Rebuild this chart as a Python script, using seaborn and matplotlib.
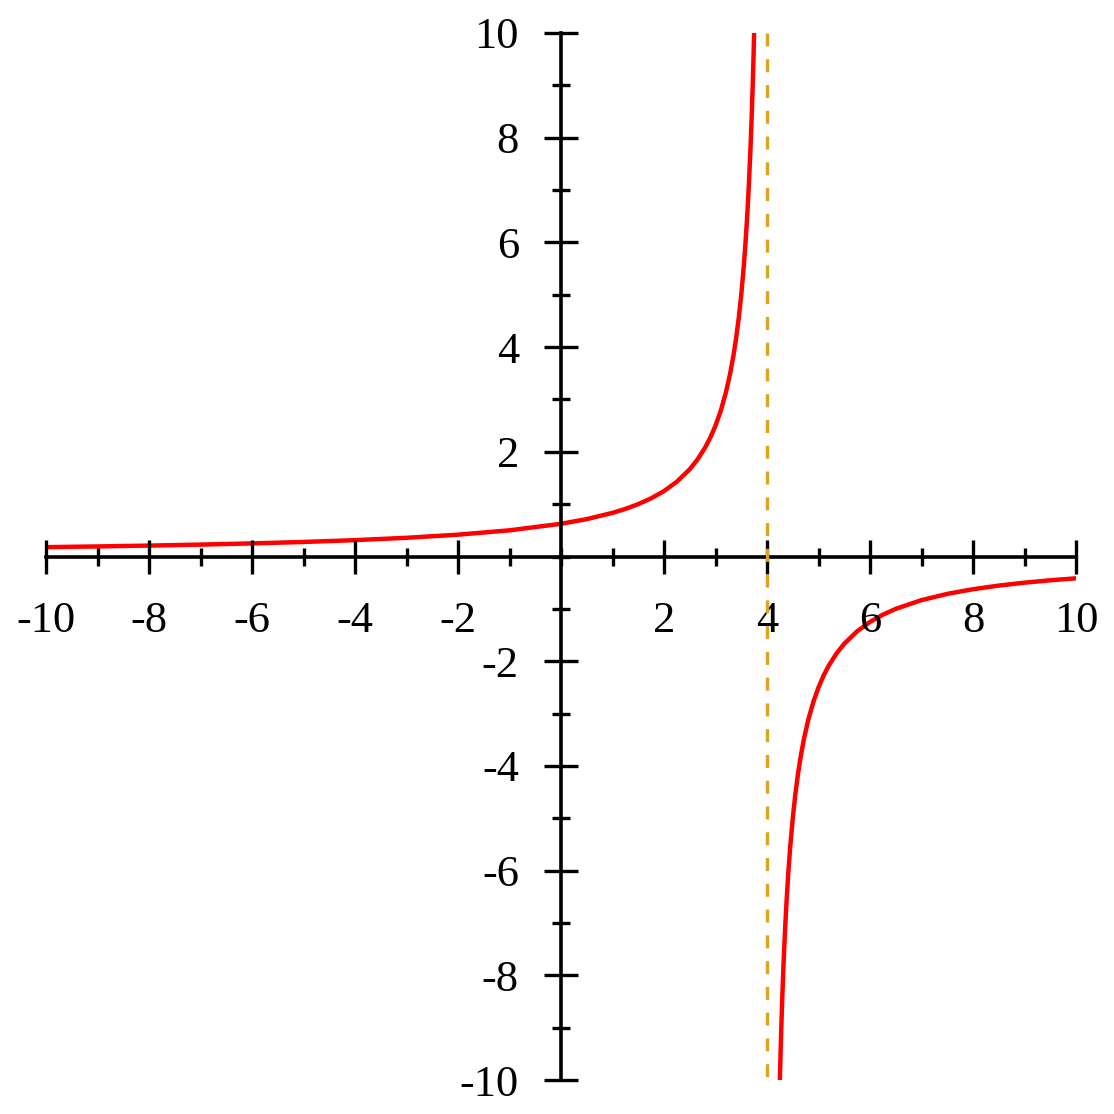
import numpy as np
import pandas as pd
import matplotlib
matplotlib.use("Agg")
import matplotlib.pyplot as plt
import seaborn as sns

# Left branch
left_x = [-10, -9, -8, -7, -6, -5, -4, -3, -2, -1, 0, 0.5, 1, 1.25, 1.5, 1.75, 2, 2.25, 2.5,
          2.65, 2.8, 2.9, 3, 3.1, 3.2, 3.28, 3.35, 3.4, 3.45, 3.5, 3.55, 3.585, 3.62, 3.65,
          3.68, 3.7, 3.72, 3.735, 3.75]
left_y = [0.1786, 0.1923, 0.2083, 0.2273, 0.25, 0.2778, 0.3125, 0.3571, 0.4167, 0.5, 0.625,
          0.7143, 0.8333, 0.9091, 1.0, 1.1111, 1.25, 1.4286, 1.6667, 1.8519, 2.0833, 2.2727,
          2.5, 2.7778, 3.125, 3.4722, 3.8462, 4.1667, 4.5455, 5.0, 5.5556, 6.0241, 6.5789,
          7.1429, 7.8125, 8.3333, 8.9286, 9.434, 10.0]

# Right branch
right_x = [4.25, 4.265, 4.28, 4.3, 4.32, 4.35, 4.38, 4.415, 4.45, 4.5, 4.55, 4.6, 4.65, 4.72,
           4.8, 4.9, 5, 5.1, 5.2, 5.35, 5.5, 5.75, 6, 6.25, 6.5, 7, 7.5, 8, 8.5, 9, 9.5, 10]
right_y = [-10.0, -9.434, -8.9286, -8.3333, -7.8125, -7.1429, -6.5789, -6.0241, -5.5556, -5.0,
           -4.5455, -4.1667, -3.8462, -3.4722, -3.125, -2.7778, -2.5, -2.2727, -2.0833, -1.8519,
           -1.6667, -1.4286, -1.25, -1.1111, -1.0, -0.8333, -0.7143, -0.625, -0.5556, -0.5,
           -0.4545, -0.4167]

asymptote_x = 4
asymptote_y = [10, -10]
major_ticks = [-10, -8, -6, -4, -2, 2, 4, 6, 8, 10]
minor_ticks = [-9, -7, -5, -3, -1, 0, 1, 3, 5, 7, 9]

sns.set_style("white")
plt.rcParams['font.family'] = ['Liberation Serif', 'DejaVu Serif']

fig = plt.figure(figsize=(11.14, 11.14), dpi=100)
ax = fig.add_axes([46/1114, 1-1080/1114, 1030/1114, 1047/1114])

df_l = pd.DataFrame({"x": left_x, "y": left_y})
df_r = pd.DataFrame({"x": right_x, "y": right_y})
sns.lineplot(data=df_l, x="x", y="y", ax=ax, color="#ff0000", linewidth=3.2, sort=False, zorder=3)
sns.lineplot(data=df_r, x="x", y="y", ax=ax, color="#ff0000", linewidth=3.2, sort=False, zorder=3)
ax.plot([asymptote_x, asymptote_x], asymptote_y, color="#DAA520", lw=2.4,
        dashes=(3.9, 3.83), zorder=8, clip_on=False)

ax.set_xlim(-10, 10)
ax.set_ylim(-10, 10)
ax.set_xlabel("")
ax.set_ylabel("")

for s in ["top", "right"]:
    ax.spines[s].set_visible(False)
for s in ["left", "bottom"]:
    ax.spines[s].set_position(("data", 0))
    ax.spines[s].set_linewidth(2.6)
    ax.spines[s].set_color("black")
    ax.spines[s].set_zorder(5)
ax.xaxis.set_zorder(5)
ax.yaxis.set_zorder(5)

ax.set_xticks(major_ticks)
ax.set_yticks(major_ticks)
ax.set_xticks(minor_ticks, minor=True)
ax.set_yticks(minor_ticks, minor=True)
ax.set_xticklabels([str(t) for t in major_ticks])
ax.set_yticklabels([str(t) for t in major_ticks])
ax.tick_params(which="both", bottom=True, left=True, top=False, right=False)
ax.tick_params(which="major", direction="inout", length=24.5, width=2.4,
               color="black", labelcolor="black", labelsize=32)
ax.tick_params(which="minor", direction="inout", length=12.5, width=2.4, color="black")
ax.tick_params(axis="x", which="major", pad=20)
ax.tick_params(axis="y", which="major", pad=18)
ax.grid(False)

fig.savefig("out.png", dpi=100)
